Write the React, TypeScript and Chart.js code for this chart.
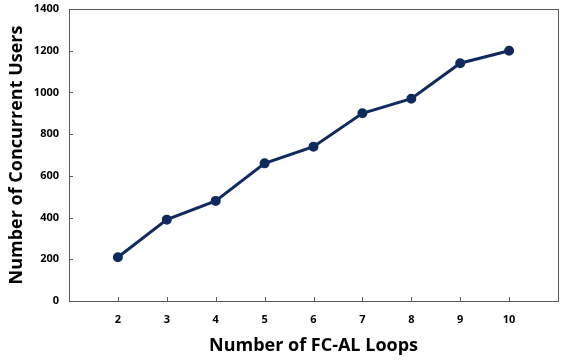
import React, { useEffect, useRef } from "react";
import { Chart, registerables } from "chart.js";

Chart.register(...registerables);

const loops = [2, 3, 4, 5, 6, 7, 8, 9, 10];
const users = [210, 390, 480, 660, 740, 900, 970, 1140, 1200];
const xTitle = "Number of FC-AL Loops";
const yTitle = "Number of Concurrent Users";

const FONT = "'Open Sans', 'Noto Sans', sans-serif";

const frame = {
  id: "frame",
  afterDraw(chart: any) {
    const { ctx, chartArea: a, scales } = chart;
    ctx.save();
    ctx.strokeStyle = "#5a5a5a";
    ctx.lineWidth = 1;
    ctx.strokeRect(Math.round(a.left) + 0.5, Math.round(a.top) + 0.5, Math.round(a.right - a.left), Math.round(a.bottom - a.top));
    ctx.beginPath();
    scales.x.ticks.forEach((t: any) => {
      if (t.value < 2 || t.value > 10) return;
      const x = Math.round(scales.x.getPixelForValue(t.value)) + 0.5;
      ctx.moveTo(x, a.bottom);
      ctx.lineTo(x, a.bottom - 4);
    });
    scales.y.ticks.forEach((t: any) => {
      const y = Math.round(scales.y.getPixelForValue(t.value)) + 0.5;
      ctx.moveTo(a.left, y);
      ctx.lineTo(a.left + 4, y);
    });
    ctx.stroke();
    ctx.restore();
  },
};

export default function App() {
  const ref = useRef<HTMLCanvasElement>(null);
  useEffect(() => {
    if (!ref.current) return;
    const chart = new Chart(ref.current, {
      type: "line",
      data: {
        datasets: [
          {
            data: loops.map((x, i) => ({ x, y: users[i] })),
            borderColor: "#0f2a5c",
            backgroundColor: "#0f2a5c",
            borderWidth: 3,
            pointRadius: 3.5,
            pointHoverRadius: 3.5,
            tension: 0,
          },
        ],
      },
      options: {
        responsive: false,
        animation: false,
        layout: { padding: { top: 9, right: 8, left: 0, bottom: 0 } },
        plugins: { legend: { display: false }, tooltip: { enabled: false } },
        scales: {
          x: {
            type: "linear",
            min: 1,
            max: 11,
            afterFit: (s: any) => {
              s.height = 60;
              s.paddingLeft = 0;
              s.paddingRight = 0;
            },
            ticks: {
              stepSize: 1,
              padding: 12,
              color: "#000",
              font: { family: FONT, size: 11, weight: "bold" },
              callback: (v: any) => (v < 2 || v > 10 ? "" : String(v)),
            },
            grid: { display: false, drawTicks: false },
            border: { display: false },
            title: {
              display: true,
              text: xTitle,
              color: "#000",
              font: { family: FONT, size: 18, weight: "bold" },
              padding: { top: 4, bottom: 4 },
            },
          },
          y: {
            min: 0,
            max: 1400,
            afterFit: (s: any) => {
              s.width = 69;
              s.paddingTop = 0;
              s.paddingBottom = 0;
            },
            ticks: {
              stepSize: 200,
              padding: 10,
              color: "#000",
              font: { family: FONT, size: 11, weight: "bold" },
              callback: (v: any) => String(v),
            },
            grid: { display: false, drawTicks: false },
            border: { display: false },
            title: {
              display: true,
              text: yTitle,
              color: "#000",
              font: { family: FONT, size: 18, weight: "bold" },
              padding: { top: 6, bottom: 4 },
            },
          },
        },
      },
      plugins: [frame],
    });
    return () => chart.destroy();
  }, []);
  return (
    <div style={{ position: "fixed", left: 0, top: 0, width: 566, height: 361, background: "#fff" }}>
      <canvas ref={ref} width={566} height={361} />
    </div>
  );
}
